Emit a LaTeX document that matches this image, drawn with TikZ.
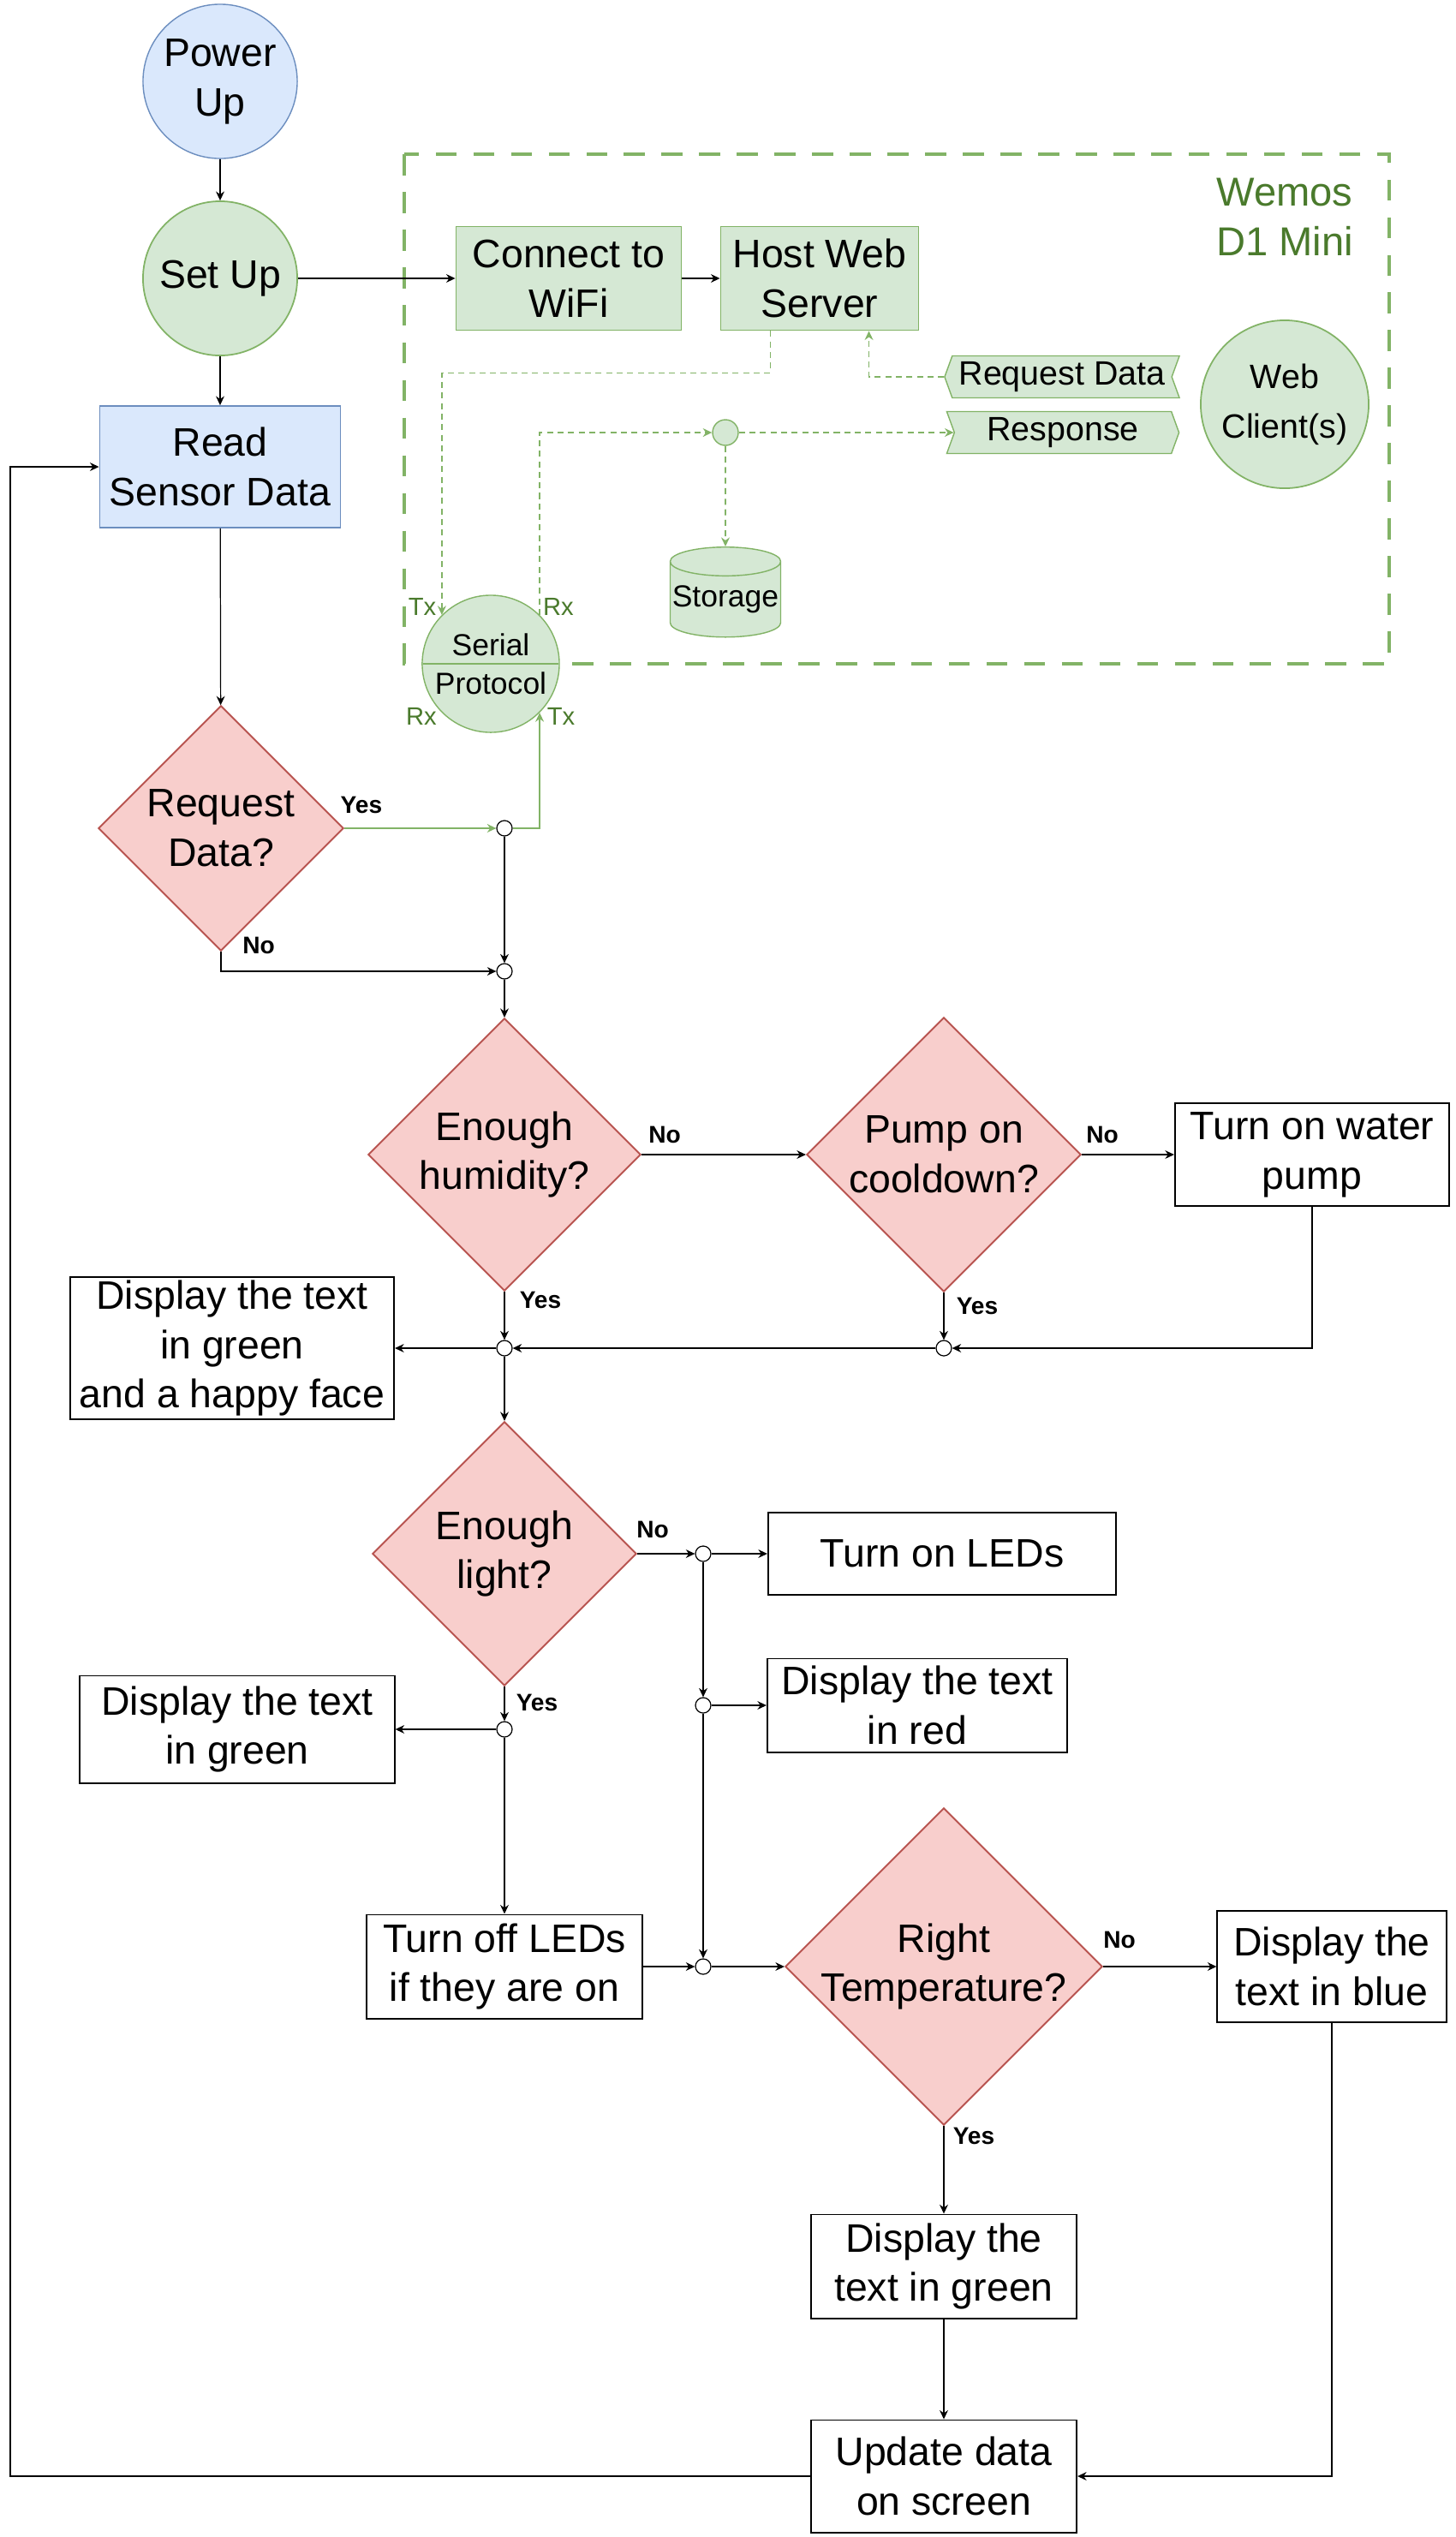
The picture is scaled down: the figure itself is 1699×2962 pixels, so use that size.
\documentclass[tikz,border=0pt]{standalone}
\usepackage{fontspec}
\setmainfont{Liberation Sans}
\usetikzlibrary{positioning}
\usetikzlibrary{arrows.meta}
\usetikzlibrary{shapes.geometric}
\usetikzlibrary{shapes.symbols}
\usetikzlibrary{shapes.multipart}
\definecolor{bluefill}{HTML}{DAE8FC}
\definecolor{bluedraw}{HTML}{6C8EBF}
\definecolor{greenfill}{HTML}{D5E8D4}
\definecolor{greendraw}{HTML}{82B366}
\definecolor{redfill}{HTML}{F8CECC}
\definecolor{reddraw}{HTML}{B85450}
\definecolor{darkgreen}{HTML}{4A7A2C}
\tikzset{txt/.style = {font=\fontsize{13.2}{16.4}\selectfont, align=center, inner sep=0}}
\tikzset{smalltxt/.style = {font=\fontsize{11.2}{16.5}\selectfont, align=center, inner sep=0}}
\tikzset{proc/.style = {txt, draw, line width=0.55pt, fill=white}}
\tikzset{blueproc/.style = {txt, draw=bluedraw, fill=bluefill, line width=0.5pt}}
\tikzset{greenproc/.style = {txt, draw=greendraw, fill=greenfill, line width=0.5pt}}
\tikzset{decision/.style = {diamond, draw=reddraw, fill=redfill, line width=0.55pt, inner sep=0}}
\tikzset{junc/.style = {circle, draw, fill=white, line width=0.35pt, inner sep=0, minimum size=0.18cm}}
\tikzset{msgtag/.style = {smalltxt, signal, draw=greendraw, fill=greenfill, line width=0.4pt,
                          signal pointer angle=140, minimum height=0.49cm}}
\tikzset{gline/.style = {draw=greendraw, line width=0.55pt}}
\tikzset{gdash/.style = {draw=greendraw, line width=0.5pt, dash pattern=on 2pt off 1.5pt}}
\tikzset{yn/.style = {font=\fontsize{8}{9.6}\selectfont\bfseries, inner sep=0}}
\tikzset{txrx/.style = {font=\fontsize{8.3}{10}\selectfont, text=darkgreen, inner sep=0}}

\begin{document}
\begin{tikzpicture}[x=0.01cm, y=-0.01cm, >={Stealth[length=3pt,width=2.8pt]}, line width=0.35pt]
  \useasboundingbox (0,0) rectangle (1699,2962);
  \draw[draw=greendraw, line width=1pt, dash pattern=on 7pt off 5.5pt] (472,180) rectangle (1622,775);
  \node[txt, text=darkgreen, font=\fontsize{13.4}{16.5}\selectfont] (wemos) at (1500,253) {Wemos\\D1 Mini};

  \node[txt, circle, draw=bluedraw, fill=bluefill, line width=0.4pt, minimum size=1.8cm] (power) at (257,95) {Power\\Up};
  \node[txt, circle, draw=greendraw, fill=greenfill, line width=0.5pt, minimum size=1.8cm] (setup) at (257,325) {Set Up};
  \node[blueproc, minimum width=2.81cm, minimum height=1.42cm] (read) at (257,545) {Read\\Sensor Data};
  \node[greenproc, minimum width=2.63cm, minimum height=1.21cm] (wifi) at (664,325) {Connect to\\WiFi};
  \node[greenproc, minimum width=2.31cm, minimum height=1.21cm] (host) at (957,325) {Host Web\\Server};
  \node[smalltxt, circle, draw=greendraw, fill=greenfill, line width=0.5pt, minimum size=1.96cm] (client) at (1500,472) {Web\\Client(s)};
  \node[msgtag, signal to=west, signal from=east, minimum width=2.74cm] (reqtag) at (1240,440) {Request Data};
  \node[msgtag, signal to=east, signal from=west, minimum width=2.71cm] (resp) at (1241,505) {Response};
  \node[circle, draw=greendraw, fill=greenfill, line width=0.4pt, minimum size=0.3cm, inner sep=0] (gj) at (847,505) {};
  \node[smalltxt, cylinder, shape border rotate=90, aspect=0.27, draw=greendraw, fill=greenfill, line width=0.4pt,
        minimum width=1.29cm, minimum height=1.05cm, font=\fontsize{10.1}{12}\selectfont] (storage) at (847,700) {Storage};
  \node[smalltxt, circle split, draw=greendraw, fill=greenfill, line width=0.4pt, minimum size=1.6cm,
        inner xsep=0pt, inner ysep=2.5pt, font=\fontsize{10.1}{12}\selectfont] (serial) at (573,775) {Serial \nodepart{lower} Protocol};
  \node[txrx] (tx1) at (493,708) {Tx};
  \node[txrx] (rx1) at (652,708) {Rx};
  \node[txrx] (rx2) at (492,836) {Rx};
  \node[txrx] (tx2) at (655,836) {Tx};

  \node[decision, minimum width=2.86cm, minimum height=2.86cm, label={[txt]center:Request\\Data?}] (request) at (258,967) {};
  \node[junc] (j1) at (589,967) {};
  \node[junc] (j2) at (589,1134) {};
  \node[decision, minimum width=3.18cm, minimum height=3.18cm, label={[txt]center:Enough\\humidity?}] (humid) at (589,1348) {};
  \node[decision, minimum width=3.2cm, minimum height=3.2cm, label={[txt]center:Pump on\\cooldown?}] (pump) at (1102,1348) {};
  \node[proc, minimum width=3.2cm, minimum height=1.2cm] (waterpump) at (1532,1348) {Turn on water\\pump};
  \node[junc] (j3) at (1102,1574) {};
  \node[junc] (j4) at (589,1574) {};
  \node[proc, minimum width=3.78cm, minimum height=1.66cm] (happy) at (271,1574) {Display the text\\in green\\and a happy face};
  \node[decision, minimum width=3.08cm, minimum height=3.08cm, label={[txt]center:Enough\\light?}] (light) at (589,1814) {};
  \node[junc] (j5) at (821,1814) {};
  \node[proc, minimum width=4.06cm, minimum height=0.96cm] (leds) at (1100,1814) {Turn on LEDs};
  \node[junc] (j6) at (821,1991) {};
  \node[proc, minimum width=3.5cm, minimum height=1.09cm] (red) at (1071,1991) {Display the text\\in red};
  \node[junc] (j8) at (589,2019) {};
  \node[proc, minimum width=3.67cm, minimum height=1.25cm] (greenleft) at (277,2019) {Display the text\\in green};
  \node[proc, minimum width=3.21cm, minimum height=1.21cm] (ledsoff) at (589,2296) {Turn off LEDs\\if they are on};
  \node[junc] (j7) at (821,2296) {};
  \node[decision, minimum width=3.7cm, minimum height=3.7cm, label={[txt]center:Right\\Temperature?}] (temp) at (1102,2296) {};
  \node[proc, minimum width=2.67cm, minimum height=1.3cm] (blue) at (1555,2296) {Display the\\text in blue};
  \node[proc, minimum width=3.1cm, minimum height=1.21cm] (greenbot) at (1102,2646) {Display the\\text in green};
  \node[proc, minimum width=3.1cm, minimum height=1.31cm] (update) at (1102,2891) {Update data\\on screen};
  \coordinate (loop) at (12,2891);

  \node[yn] (yes1) at (422,940) {Yes};
  \node[yn] (no1) at (302,1104) {No};
  \node[yn] (no2) at (776,1325) {No};
  \node[yn] (no3) at (1287,1325) {No};
  \node[yn] (yes2) at (631,1518) {Yes};
  \node[yn] (yes3) at (1141,1525) {Yes};
  \node[yn] (no4) at (762,1786) {No};
  \node[yn] (yes4) at (627,1988) {Yes};
  \node[yn] (no5) at (1307,2265) {No};
  \node[yn] (yes5) at (1137,2494) {Yes};

  \draw[->] (power) -- (setup);
  \draw[->] (setup) -- (wifi);
  \draw[->] (wifi) -- (host);
  \draw[->] (setup) -- (read);
  \draw[->] (read) -- (request);
  \draw[gline, ->] (request) -- (j1);
  \draw[gline, ->] (j1) -| (serial.-45);
  \draw[->] (j1) -- (j2);
  \draw[->] (request.south) |- (j2);
  \draw[->] (j2) -- (humid);
  \draw[->] (humid) -- (pump);
  \draw[->] (pump) -- (waterpump);
  \draw[->] (waterpump.south) |- (j3);
  \draw[->] (pump) -- (j3);
  \draw[->] (j3) -- (j4);
  \draw[->] (humid) -- (j4);
  \draw[->] (j4) -- (happy);
  \draw[->] (j4) -- (light);
  \draw[->] (light) -- (j5);
  \draw[->] (j5) -- (leds);
  \draw[->] (j5) -- (j6);
  \draw[->] (j6) -- (red);
  \draw[->] (j6) -- (j7);
  \draw[->] (light) -- (j8);
  \draw[->] (j8) -- (greenleft);
  \draw[->] (j8) -- (ledsoff);
  \draw[->] (ledsoff) -- (j7);
  \draw[->] (j7) -- (temp);
  \draw[->] (temp) -- (blue);
  \draw[->] (temp) -- (greenbot);
  \draw[->] (greenbot) -- (update);
  \draw[->] (blue.south) |- (update.east);
  \draw[->] (update.west) -- (loop) |- (read.west);

  \draw[gdash, ->] ([xshift=-0.575cm]host.south) -- ++(0,49) -| (serial.135);
  \draw[gdash, ->] (reqtag.west) -| ([xshift=0.575cm]host.south);
  \draw[gdash, ->] (serial.45) |- (gj);
  \draw[gdash, ->] (gj) -- (resp.west);
  \draw[gdash, ->] (gj) -- (storage);
\end{tikzpicture}
\end{document}
